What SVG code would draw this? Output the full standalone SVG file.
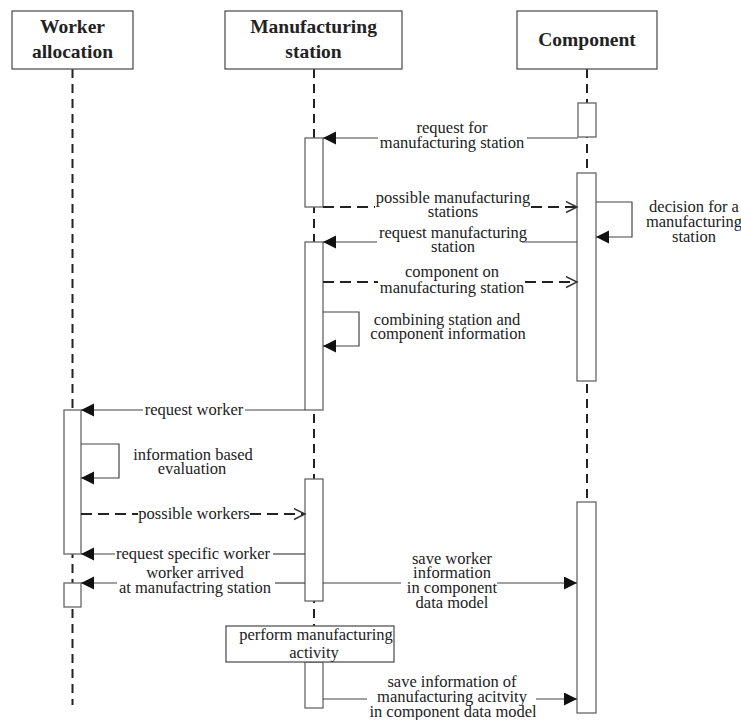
<svg xmlns="http://www.w3.org/2000/svg" width="741" height="720" viewBox="0 0 741 720">
<style>
.hdr{fill:#fff;stroke:#555;stroke-width:1.3}
.ht{font-family:"Liberation Serif","Times New Roman",serif;font-weight:bold;font-size:19.5px;fill:#222;text-anchor:middle}
.life{stroke:#222;stroke-width:2;stroke-dasharray:9 6;fill:none}
.act{fill:#fff;stroke:#666;stroke-width:1.3}
.msg{stroke:#444;stroke-width:1.2;fill:none}
.ret{stroke:#222;stroke-width:2;stroke-dasharray:11 6;fill:none}
.lbl{font-family:"Liberation Serif","Times New Roman",serif;font-size:16.5px;fill:#222;text-anchor:middle}
</style>
<defs>
<marker id="fill" markerUnits="userSpaceOnUse" markerWidth="14" markerHeight="14" refX="13" refY="6.5" orient="auto">
<path d="M0,0 L13,6.5 L0,13 z" fill="#111"/>
</marker>
<marker id="open" markerUnits="userSpaceOnUse" markerWidth="14" markerHeight="14" refX="12" refY="6.5" orient="auto">
<path d="M1,1 L12,6.5 L1,12" fill="none" stroke="#333" stroke-width="1.4"/>
</marker>
</defs>

<g id="lifelines">
<line class="life" x1="72.5" y1="69" x2="72.5" y2="705"/>
<line class="life" x1="314" y1="69" x2="314" y2="662"/>
<line class="life" x1="587" y1="69" x2="587" y2="502"/>
</g>

<g id="worker-allocation">
<rect class="hdr" x="12" y="11" width="121" height="58"/>
<text class="ht" x="72.5" y="33">Worker</text>
<text class="ht" x="72.5" y="58">allocation</text>
<rect class="act" x="64" y="410" width="17" height="144"/>
<rect class="act" x="64" y="583" width="17" height="24"/>
</g>

<g id="manufacturing-station">
<rect class="hdr" x="225" y="11" width="177" height="58"/>
<text class="ht" x="313.5" y="33">Manufacturing</text>
<text class="ht" x="313.5" y="58">station</text>
<rect class="act" x="305" y="138" width="18" height="69"/>
<rect class="act" x="305" y="242" width="18" height="168"/>
<rect class="act" x="305" y="479" width="18" height="122"/>
<rect class="act" x="305" y="662" width="18" height="46"/>
</g>

<g id="component">
<rect class="hdr" x="517" y="11" width="140" height="58"/>
<text class="ht" x="587" y="46">Component</text>
<rect class="act" x="578" y="103" width="18" height="34"/>
<rect class="act" x="577" y="173" width="19" height="208"/>
<rect class="act" x="577" y="502" width="19" height="211"/>
</g>

<g id="perform-activity">
<rect class="hdr" x="226" y="626" width="168" height="36"/>
<text class="lbl" x="316" y="640">perform manufacturing</text>
<text class="lbl" x="314" y="658">activity</text>
</g>

<g id="connectors">
<path class="msg" d="M578,138 H527"/>
<path class="msg" d="M378,138 H323" marker-end="url(#fill)"/>
<path class="ret" d="M323,207 H375"/>
<path class="ret" d="M531,207 H577" marker-end="url(#open)"/>
<path class="msg" d="M596,202 H632 V237 H596" marker-end="url(#fill)"/>
<path class="msg" d="M577,242 H522"/>
<path class="msg" d="M377,242 H323" marker-end="url(#fill)"/>
<path class="ret" d="M323,282 H378"/>
<path class="ret" d="M525,282 H577" marker-end="url(#open)"/>
<path class="msg" d="M323,312 H359 V346 H323" marker-end="url(#fill)"/>
<path class="msg" d="M305,410 H245"/>
<path class="msg" d="M143,410 H81" marker-end="url(#fill)"/>
<path class="msg" d="M81,444 H119 V478 H81" marker-end="url(#fill)"/>
<path class="ret" d="M81,514 H138"/>
<path class="ret" d="M250,514 H305" marker-end="url(#open)"/>
<path class="msg" d="M305,554 H273"/>
<path class="msg" d="M115,554 H81" marker-end="url(#fill)"/>
<path class="msg" d="M305,583 H275"/>
<path class="msg" d="M117,583 H81" marker-end="url(#fill)"/>
<path class="msg" d="M323,583 H401"/>
<path class="msg" d="M497,583 H577" marker-end="url(#fill)"/>
<path class="msg" d="M323,699 H367"/>
<path class="msg" d="M536,699 H577" marker-end="url(#fill)"/>
</g>

<g id="labels">
<text class="lbl" x="452" y="133">request for</text>
<text class="lbl" x="452" y="148">manufacturing station</text>
<text class="lbl" x="453" y="203">possible manufacturing</text>
<text class="lbl" x="453" y="217">stations</text>
<text class="lbl" x="694" y="212">decision for a</text>
<text class="lbl" x="694" y="227">manufacturing</text>
<text class="lbl" x="694" y="242">station</text>
<text class="lbl" x="453" y="238">request manufacturing</text>
<text class="lbl" x="453" y="252">station</text>
<text class="lbl" x="452" y="277">component on</text>
<text class="lbl" x="452" y="293">manufacturing station</text>
<text class="lbl" x="447" y="325">combining station and</text>
<text class="lbl" x="448" y="339">component information</text>
<text class="lbl" x="194" y="415">request worker</text>
<text class="lbl" x="193" y="460">information based</text>
<text class="lbl" x="192" y="474">evaluation</text>
<text class="lbl" x="194" y="519">possible workers</text>
<text class="lbl" x="193" y="559">request specific worker</text>
<text class="lbl" x="195" y="578">worker arrived</text>
<text class="lbl" x="195" y="593">at manufactring station</text>
<text class="lbl" x="452" y="564">save worker</text>
<text class="lbl" x="452" y="578">information</text>
<text class="lbl" x="452" y="593">in component</text>
<text class="lbl" x="452" y="608">data model</text>
<text class="lbl" x="452" y="687">save information of</text>
<text class="lbl" x="452" y="702">manufacturing acitvity</text>
<text class="lbl" x="453" y="717">in component data model</text>
</g>
</svg>
